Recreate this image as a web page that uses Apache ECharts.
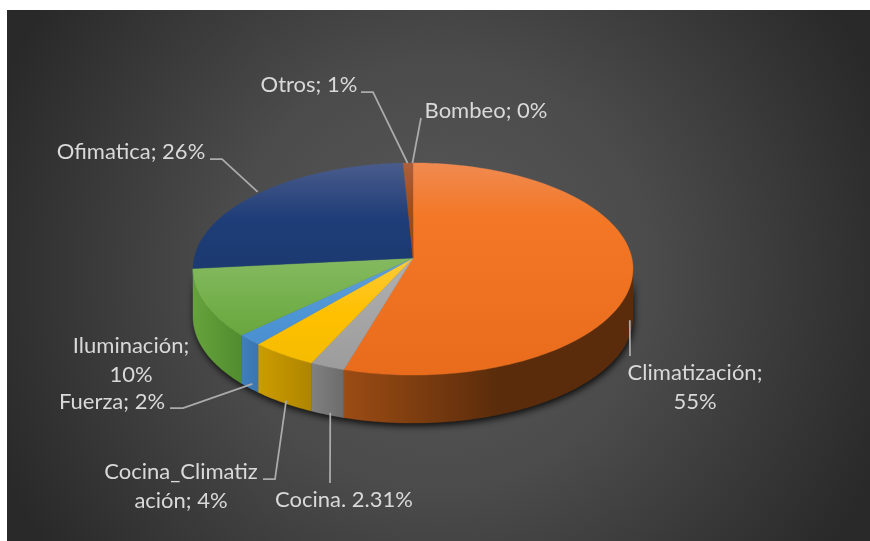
<!DOCTYPE html>
<html>
<head>
<meta charset="utf-8">
<style>html,body{margin:0;padding:0;background:#fff}#chart{width:870px;height:541px}</style>
<script src="https://cdn.jsdelivr.net/npm/echarts@6/dist/echarts.min.js"></script>
</head>
<body>
<div id="chart"></div>
<script>
// Energy use by end-use category, clockwise from twelve o'clock.
const categories = ['Climatización', 'Cocina', 'Cocina_Climatización', 'Fuerza', 'Iluminación', 'Ofimatica', 'Otros', 'Bombeo'];
const shares = [54.6, 2.31, 4.4, 1.7, 10.4, 25.8, 0.7, 0.09];
const labelTexts = ['Climatización;\n55%', 'Cocina. 2.31%', 'Cocina_Climatiz\nación; 4%', 'Fuerza; 2%', 'Iluminación;\n10%', 'Ofimatica; 26%', 'Otros; 1%', 'Bombeo; 0%'];

// Disc seen in perspective: the hub sits above the visual middle of the rim.
const disc = { cx: 413, apexY: 258, a: 218.8, b: 104.9, k: 0.1038, depth: 48 };

// Per-slice colours: top-face highlight, top-face body, top-face foot, wall start, wall end.
const palette = [
  ['#F08A50', '#F37725', '#E86C1C', '#9C4C14', '#5A2C0B'],
  ['#B0B0B0', '#A6A6A6', '#9C9C9C', '#808080', '#6C6C6C'],
  ['#FFCB3A', '#FFC000', '#F5BC00', '#CC9C00', '#AE8500'],
  ['#5F9FD8', '#4E95D5', '#4A90D0', '#3F7FBB', '#3A76B0'],
  ['#84BA60', '#70AD47', '#6AA63F', '#66A33C', '#518C2E'],
  ['#4A5C8C', '#1F3D78', '#1B3A70', '#16305C', '#16305C'],
  ['#AE5F3C', '#9E4A12', '#9E4A12', '#7A3A10', '#7A3A10'],
  ['#AE5F3C', '#9E4A12', '#9E4A12', '#7A3A10', '#7A3A10']
];

// Where each label sits, its leader elbow and how far the leader lands from the slice's rim midpoint.
const labelLayout = [
  { x: 695, y: 373, path: [[630, 356]], dx: -3, drop: 47 },
  { x: 344, y: 500, path: [[330, 483]], dx: 3, drop: 46 },
  { x: 181, y: 472, path: [[263, 479], [275, 479]], dx: 3, drop: 46 },
  { x: 112, y: 402, path: [[170, 408], [183, 408]], dx: 3, drop: 44 },
  { x: 131, y: 346, path: null, dx: 0, drop: 0 },
  { x: 131, y: 152, path: [[210, 159], [222, 159]], dx: 0, drop: -2 },
  { x: 309, y: 85, path: [[361, 92], [373, 92]], dx: 0, drop: 0 },
  { x: 486, y: 111, path: [[421, 118]], dx: 0, drop: 0 }
];

const total = shares.reduce((s, v) => s + v, 0);
let running = 0;
const sliceRows = shares.map((v, i) => {
  const start = running / total * Math.PI * 2;
  running += v;
  return [i, start, running / total * Math.PI * 2];
});

// Projects a rim angle to the screen; dy shifts it down the wall.
const rim = (t, dy) => {
  const w = 1 + disc.k * Math.cos(t);
  return [disc.cx + disc.a * Math.sin(t) / w, disc.apexY - disc.b * Math.cos(t) / w + (dy || 0)];
};
const arc = (t0, t1, dy) => {
  const n = Math.max(2, Math.ceil(Math.abs(t1 - t0) / 0.02));
  const pts = [];
  for (let j = 0; j <= n; j++) pts.push(rim(t0 + (t1 - t0) * j / n, dy));
  return pts;
};
// Silhouette tangents: the wall is visible between these two rim angles.
const wallStart = Math.PI - Math.acos(disc.k);
const wallEnd = Math.PI + Math.acos(disc.k);
const gradient = (x0, y0, x1, y1, stops) => new echarts.graphic.LinearGradient(x0, y0, x1, y1, stops, true);

function renderShadow() {
  const front = arc(wallStart, wallEnd, 0).concat(arc(wallEnd, wallStart, disc.depth));
  return {
    type: 'polygon',
    shape: { points: front },
    style: { fill: '#222', shadowBlur: 7, shadowColor: 'rgba(0,0,0,0.85)', shadowOffsetX: 1, shadowOffsetY: 3 }
  };
}

function renderWall(params, api) {
  const i = api.value(0);
  const t0 = Math.max(api.value(1), wallStart);
  const t1 = Math.min(api.value(2), wallEnd);
  if (t1 <= t0) return { type: 'group', children: [] };
  const c = palette[i];
  const pts = arc(t0, t1, 0).concat(arc(t1, t0, disc.depth));
  const xs = pts.map(p => p[0]);
  const xMax = Math.max.apply(null, xs);
  const xMin = Math.min.apply(null, xs);
  // The long wall darkens quickly and then stays flat towards the right.
  const fill = gradient(xMin, 0, i === 0 ? xMin + 155 : xMax, 0, [{ offset: 0, color: c[3] }, { offset: 1, color: c[4] }]);
  return { type: 'polygon', shape: { points: pts }, style: { fill: fill, stroke: fill, lineWidth: 0.4 } };
}

function renderTop(params, api) {
  const i = api.value(0);
  const c = palette[i];
  const pts = [[disc.cx, disc.apexY]].concat(arc(api.value(1), api.value(2), 0));
  const ys = pts.map(p => p[1]);
  const yMin = Math.min.apply(null, ys);
  const yMax = Math.max.apply(null, ys);
  // A soft sheen fades out over the upper part of every slice.
  const sheen = Math.min(0.9, 55 / (yMax - yMin));
  const fill = gradient(0, yMin, 0, yMax, [
    { offset: 0, color: c[0] },
    { offset: sheen, color: c[1] },
    { offset: 1, color: c[2] }
  ]);
  return { type: 'polygon', shape: { points: pts }, style: { fill: fill, stroke: fill, lineWidth: 0.4 } };
}

function renderLabel(params, api) {
  const i = api.value(0);
  const lay = labelLayout[i];
  const children = [];
  if (lay.path) {
    const mid = rim((api.value(1) + api.value(2)) / 2, lay.drop);
    children.push({
      type: 'polyline',
      shape: { points: lay.path.concat([[mid[0] + lay.dx, mid[1]]]) },
      style: { stroke: '#ABABAB', lineWidth: 1.75, fill: null }
    });
  }
  children.push({
    type: 'text',
    style: {
      x: lay.x, y: lay.y - 14.5,
      text: labelTexts[i],
      fill: '#D9D9D9',
      font: '22px Lato, sans-serif',
      align: 'center',
      verticalAlign: 'top',
      lineHeight: 29
    }
  });
  return { type: 'group', children: children };
}

const chart = echarts.init(document.getElementById('chart'), null, { renderer: 'canvas' });
chart.setOption({
  animation: false,
  tooltip: { show: false },
  graphic: [{
    type: 'rect',
    silent: true,
    z: -10,
    shape: { x: 7, y: 10, width: 863, height: 531 },
    style: {
      fill: new echarts.graphic.RadialGradient(0.5, 0.5, 0.9, [
        { offset: 0, color: '#595959' },
        { offset: 0.45, color: '#4B4B4B' },
        { offset: 1, color: '#292929' }
      ])
    }
  }],
  series: [
    { type: 'custom', name: 'sombra', coordinateSystem: 'none', silent: true, z: 1, data: [[0]], renderItem: renderShadow },
    { type: 'custom', name: 'pared', coordinateSystem: 'none', silent: true, z: 2, data: sliceRows, renderItem: renderWall },
    { type: 'custom', name: 'sector', coordinateSystem: 'none', silent: true, z: 3, data: sliceRows, renderItem: renderTop },
    { type: 'custom', name: 'etiqueta', coordinateSystem: 'none', silent: true, z: 4, data: sliceRows, renderItem: renderLabel }
  ]
});
</script>
</body>
</html>
